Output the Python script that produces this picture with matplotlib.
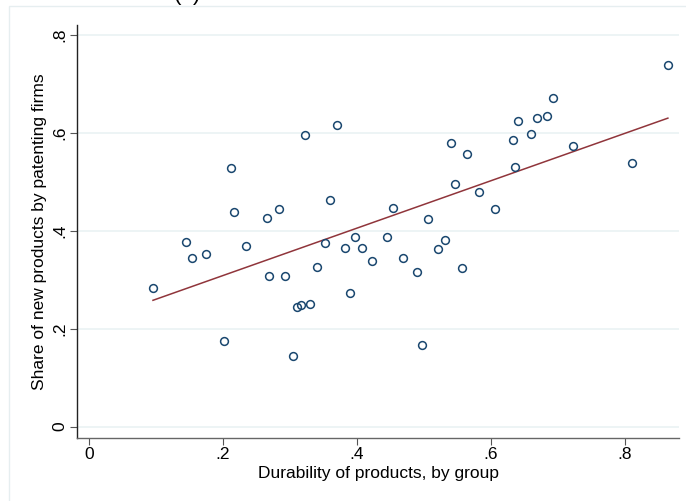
import numpy as np
import matplotlib
matplotlib.use("Agg")
import matplotlib.pyplot as plt
from matplotlib.patches import Rectangle

plt.rcParams['font.family'] = ['Liberation Sans', 'DejaVu Sans']

durability = [0.0955, 0.145, 0.154, 0.175, 0.201, 0.212, 0.216, 0.234, 0.266, 0.269,
              0.284, 0.293, 0.304, 0.311, 0.316, 0.322, 0.330, 0.340, 0.352, 0.360,
              0.370, 0.382, 0.389, 0.397, 0.408, 0.422, 0.445, 0.454, 0.469, 0.489,
              0.497, 0.506, 0.521, 0.532, 0.541, 0.546, 0.556, 0.564, 0.582, 0.606,
              0.633, 0.636, 0.641, 0.659, 0.669, 0.683, 0.692, 0.723, 0.811, 0.864]
share = [0.284, 0.377, 0.345, 0.352, 0.174, 0.528, 0.439, 0.370, 0.426, 0.307,
         0.445, 0.308, 0.144, 0.244, 0.249, 0.595, 0.251, 0.327, 0.376, 0.463,
         0.617, 0.366, 0.274, 0.387, 0.365, 0.338, 0.387, 0.446, 0.345, 0.316,
         0.167, 0.424, 0.362, 0.381, 0.579, 0.495, 0.324, 0.556, 0.479, 0.445,
         0.585, 0.531, 0.624, 0.598, 0.631, 0.634, 0.671, 0.574, 0.539, 0.739]

xticks = [0, 0.2, 0.4, 0.6, 0.8]
xticklabels = ['0', '.2', '.4', '.6', '.8']
yticks = [0, 0.2, 0.4, 0.6, 0.8]
yticklabels = ['0', '.2', '.4', '.6', '.8']

W, H = 686, 501
fig = plt.figure(figsize=(W / 100, H / 100), dpi=100)
fig.patch.set_facecolor('white')

# outer frame (cropped graph region)
fig.add_artist(Rectangle((9 / W, -0.1), 1.2, 1.1 - 6 / H, transform=fig.transFigure,
                         fill=False, edgecolor='#e6eef0', lw=1.0))

ax = fig.add_axes([77 / W, (H - 437.6) / H, (679 - 77) / W, (437.6 - 25) / H])
x = np.array(durability)
y = np.array(share)

ax.plot(x, y, 'o', ms=5.6, mfc='none', mec='#1a476f', mew=1.1, zorder=3)
b, a = np.polyfit(x, y, 1)
xs = np.array([x.min(), x.max()])
ax.plot(xs, a + b * xs, color='#90353b', lw=1.1, zorder=2)

ax.set_xlim(-0.0179, 0.8806)
ax.set_ylim(-0.0223, 0.8205)
ax.set_xticks(xticks)
ax.set_xticklabels(xticklabels)
ax.set_yticks(yticks)
ax.set_yticklabels(yticklabels, rotation=90, va='center')
ax.tick_params(axis='both', labelsize=12.5, length=5, width=0.8, color='#555555', pad=2)
ax.grid(axis='y', color='#eaf2f3', lw=1.2)
ax.set_axisbelow(True)
for s in ['top', 'right']:
    ax.spines[s].set_visible(False)
ax.spines['left'].set_color('#222222')
ax.spines['bottom'].set_color('#666666')
ax.spines['left'].set_linewidth(1.0)
ax.spines['bottom'].set_linewidth(1.0)

ax.set_xlabel('Durability of products, by group', fontsize=12.5, labelpad=3)
ax.set_ylabel('Share of new products by patenting firms', fontsize=12.5, labelpad=4)

fig.text(187 / W, 1.0, '(a)', ha='center', va='baseline', fontsize=16)

fig.savefig('out.png', dpi=100)
